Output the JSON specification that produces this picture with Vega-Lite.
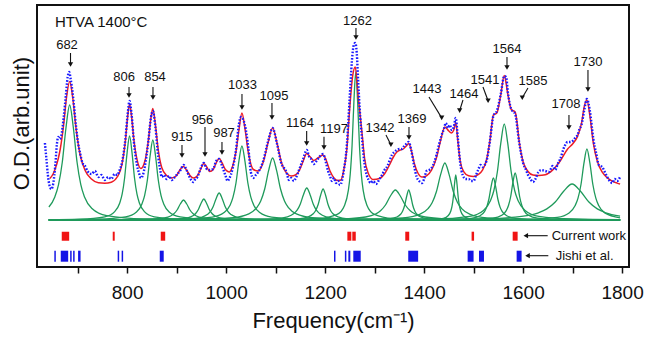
{
"$schema":"https://vega.github.io/schema/vega-lite/v6.json",
"width":592,"height":262,
"autosize":{"type":"none"},
"padding":{"left":37,"top":5,"right":17,"bottom":72},
"config":{"font":"Liberation Sans","view":{"stroke":"#111","strokeWidth":2}},
"datasets":{
"comp":[
{"c":1,"f":642,"v":60},{"c":1,"f":654,"v":70},{"c":1,"f":661.5,"v":82.4},{"c":1,"f":669,"v":104.5},{"c":1,"f":676.5,"v":139},{"c":1,"f":684,"v":162},{"c":1,"f":691.5,"v":139},{"c":1,"f":699,"v":104.5},{"c":1,"f":706.5,"v":82.4},{"c":1,"f":714,"v":70},{"c":1,"f":729,"v":58.5},{"c":1,"f":759,"v":51.4},{"c":1,"f":834,"v":48.1},{"c":1,"f":1000,"v":47.3},{"c":1,"f":1796,"v":47},
{"c":2,"f":642,"v":47.3},{"c":2,"f":705,"v":47.8},{"c":2,"f":755,"v":50.2},{"c":2,"f":775,"v":55.4},{"c":2,"f":785,"v":63.8},{"c":2,"f":790,"v":72.8},{"c":2,"f":795,"v":89},{"c":2,"f":800,"v":114.2},{"c":2,"f":805,"v":131},{"c":2,"f":810,"v":114.2},{"c":2,"f":815,"v":89},{"c":2,"f":820,"v":72.8},{"c":2,"f":825,"v":63.8},{"c":2,"f":835,"v":55.4},{"c":2,"f":855,"v":50.2},{"c":2,"f":905,"v":47.8},{"c":2,"f":1796,"v":47},
{"c":3,"f":642,"v":47.2},{"c":3,"f":742,"v":47.8},{"c":3,"f":797,"v":50.1},{"c":3,"f":819,"v":55},{"c":3,"f":830,"v":63},{"c":3,"f":835.5,"v":71.6},{"c":3,"f":841,"v":87},{"c":3,"f":846.5,"v":111},{"c":3,"f":852,"v":127},{"c":3,"f":857.5,"v":111},{"c":3,"f":863,"v":87},{"c":3,"f":868.5,"v":71.6},{"c":3,"f":874,"v":63},{"c":3,"f":885,"v":55},{"c":3,"f":907,"v":50.1},{"c":3,"f":962,"v":47.8},{"c":3,"f":1796,"v":47},
{"c":4,"f":642,"v":47},{"c":4,"f":784,"v":47.2},{"c":4,"f":849,"v":47.8},{"c":4,"f":875,"v":49},{"c":4,"f":888,"v":51},{"c":4,"f":894.5,"v":53.2},{"c":4,"f":901,"v":57},{"c":4,"f":907.5,"v":63},{"c":4,"f":914,"v":67},{"c":4,"f":920.5,"v":63},{"c":4,"f":927,"v":57},{"c":4,"f":933.5,"v":53.2},{"c":4,"f":940,"v":51},{"c":4,"f":953,"v":49},{"c":4,"f":979,"v":47.8},{"c":4,"f":1044,"v":47.2},{"c":4,"f":1796,"v":47},
{"c":5,"f":642,"v":47},{"c":5,"f":845,"v":47.2},{"c":5,"f":900,"v":47.8},{"c":5,"f":922,"v":49.1},{"c":5,"f":933,"v":51.2},{"c":5,"f":938.5,"v":53.5},{"c":5,"f":944,"v":57.5},{"c":5,"f":949.5,"v":63.8},{"c":5,"f":955,"v":68},{"c":5,"f":960.5,"v":63.8},{"c":5,"f":966,"v":57.5},{"c":5,"f":971.5,"v":53.5},{"c":5,"f":977,"v":51.2},{"c":5,"f":988,"v":49.1},{"c":5,"f":1010,"v":47.8},{"c":5,"f":1065,"v":47.2},{"c":5,"f":1796,"v":47},
{"c":6,"f":642,"v":47},{"c":6,"f":866,"v":47.3},{"c":6,"f":926,"v":48},{"c":6,"f":950,"v":49.7},{"c":6,"f":962,"v":52.4},{"c":6,"f":968,"v":55.3},{"c":6,"f":974,"v":60.5},{"c":6,"f":980,"v":68.6},{"c":6,"f":986,"v":74},{"c":6,"f":992,"v":68.6},{"c":6,"f":998,"v":60.5},{"c":6,"f":1004,"v":55.3},{"c":6,"f":1010,"v":52.4},{"c":6,"f":1022,"v":49.7},{"c":6,"f":1046,"v":48},{"c":6,"f":1106,"v":47.3},{"c":6,"f":1796,"v":47},
{"c":7,"f":642,"v":47.1},{"c":7,"f":912,"v":47.7},{"c":7,"f":972,"v":49.8},{"c":7,"f":996,"v":54.4},{"c":7,"f":1008,"v":61.8},{"c":7,"f":1014,"v":69.8},{"c":7,"f":1020,"v":84},{"c":7,"f":1026,"v":106.2},{"c":7,"f":1032,"v":121},{"c":7,"f":1038,"v":106.2},{"c":7,"f":1044,"v":84},{"c":7,"f":1050,"v":69.8},{"c":7,"f":1056,"v":61.8},{"c":7,"f":1068,"v":54.4},{"c":7,"f":1092,"v":49.8},{"c":7,"f":1152,"v":47.7},{"c":7,"f":1796,"v":47},
{"c":8,"f":642,"v":47.1},{"c":8,"f":934,"v":47.6},{"c":8,"f":1014,"v":49.4},{"c":8,"f":1046,"v":53.2},{"c":8,"f":1062,"v":59.4},{"c":8,"f":1070,"v":66.1},{"c":8,"f":1078,"v":78},{"c":8,"f":1086,"v":96.6},{"c":8,"f":1094,"v":109},{"c":8,"f":1102,"v":96.6},{"c":8,"f":1110,"v":78},{"c":8,"f":1118,"v":66.1},{"c":8,"f":1126,"v":59.4},{"c":8,"f":1142,"v":53.2},{"c":8,"f":1174,"v":49.4},{"c":8,"f":1254,"v":47.6},{"c":8,"f":1796,"v":47},
{"c":9,"f":642,"v":47},{"c":9,"f":1033,"v":47.3},{"c":9,"f":1098,"v":48.2},{"c":9,"f":1124,"v":50.2},{"c":9,"f":1137,"v":53.4},{"c":9,"f":1143.5,"v":56.8},{"c":9,"f":1150,"v":63},{"c":9,"f":1156.5,"v":72.6},{"c":9,"f":1163,"v":79},{"c":9,"f":1169.5,"v":72.6},{"c":9,"f":1176,"v":63},{"c":9,"f":1182.5,"v":56.8},{"c":9,"f":1189,"v":53.4},{"c":9,"f":1202,"v":50.2},{"c":9,"f":1228,"v":48.2},{"c":9,"f":1293,"v":47.3},{"c":9,"f":1796,"v":47},
{"c":10,"f":642,"v":47},{"c":10,"f":1096,"v":47.3},{"c":10,"f":1146,"v":48.2},{"c":10,"f":1166,"v":50.1},{"c":10,"f":1176,"v":53.2},{"c":10,"f":1181,"v":56.5},{"c":10,"f":1186,"v":62.5},{"c":10,"f":1191,"v":71.8},{"c":10,"f":1196,"v":78},{"c":10,"f":1201,"v":71.8},{"c":10,"f":1206,"v":62.5},{"c":10,"f":1211,"v":56.5},{"c":10,"f":1216,"v":53.2},{"c":10,"f":1226,"v":50.1},{"c":10,"f":1246,"v":48.2},{"c":10,"f":1296,"v":47.3},{"c":10,"f":1796,"v":47},
{"c":11,"f":642,"v":47},{"c":11,"f":1112,"v":47.4},{"c":11,"f":1187,"v":48.5},{"c":11,"f":1224.5,"v":52.7},{"c":11,"f":1239.5,"v":61.8},{"c":11,"f":1247,"v":76.6},{"c":11,"f":1250.75,"v":92.5},{"c":11,"f":1254.5,"v":121},{"c":11,"f":1258.25,"v":165.4},{"c":11,"f":1262,"v":195},{"c":11,"f":1265.75,"v":165.4},{"c":11,"f":1269.5,"v":121},{"c":11,"f":1273.25,"v":92.5},{"c":11,"f":1277,"v":76.6},{"c":11,"f":1284.5,"v":61.8},{"c":11,"f":1299.5,"v":52.7},{"c":11,"f":1337,"v":48.5},{"c":11,"f":1412,"v":47.4},{"c":11,"f":1796,"v":47},
{"c":12,"f":642,"v":47},{"c":12,"f":1142,"v":47.3},{"c":12,"f":1242,"v":48.2},{"c":12,"f":1282,"v":50},{"c":12,"f":1302,"v":53},{"c":12,"f":1312,"v":56.2},{"c":12,"f":1322,"v":62},{"c":12,"f":1332,"v":71},{"c":12,"f":1342,"v":77},{"c":12,"f":1352,"v":71},{"c":12,"f":1362,"v":62},{"c":12,"f":1372,"v":56.2},{"c":12,"f":1382,"v":53},{"c":12,"f":1402,"v":50},{"c":12,"f":1442,"v":48.2},{"c":12,"f":1542,"v":47.3},{"c":12,"f":1796,"v":47.1},
{"c":13,"f":642,"v":47},{"c":13,"f":1289,"v":47.3},{"c":13,"f":1329,"v":48.2},{"c":13,"f":1345,"v":50},{"c":13,"f":1353,"v":53},{"c":13,"f":1357,"v":56.2},{"c":13,"f":1361,"v":62},{"c":13,"f":1365,"v":71},{"c":13,"f":1369,"v":77},{"c":13,"f":1373,"v":71},{"c":13,"f":1377,"v":62},{"c":13,"f":1381,"v":56.2},{"c":13,"f":1385,"v":53},{"c":13,"f":1393,"v":50},{"c":13,"f":1409,"v":48.2},{"c":13,"f":1449,"v":47.3},{"c":13,"f":1796,"v":47},
{"c":14,"f":642,"v":47},{"c":14,"f":1272,"v":47.6},{"c":14,"f":1357,"v":49.2},{"c":14,"f":1391,"v":52.7},{"c":14,"f":1408,"v":58.4},{"c":14,"f":1416.5,"v":64.5},{"c":14,"f":1425,"v":75.5},{"c":14,"f":1433.5,"v":92.6},{"c":14,"f":1442,"v":104},{"c":14,"f":1450.5,"v":92.6},{"c":14,"f":1459,"v":75.5},{"c":14,"f":1467.5,"v":64.5},{"c":14,"f":1476,"v":58.4},{"c":14,"f":1493,"v":52.7},{"c":14,"f":1527,"v":49.2},{"c":14,"f":1612,"v":47.6},{"c":14,"f":1796,"v":47.1},
{"c":15,"f":642,"v":47},{"c":15,"f":1364,"v":47.1},{"c":15,"f":1414,"v":47.4},{"c":15,"f":1439,"v":48.7},{"c":15,"f":1449,"v":51.5},{"c":15,"f":1454,"v":56},{"c":15,"f":1456.5,"v":60.8},{"c":15,"f":1459,"v":69.5},{"c":15,"f":1461.5,"v":83},{"c":15,"f":1464,"v":92},{"c":15,"f":1466.5,"v":83},{"c":15,"f":1469,"v":69.5},{"c":15,"f":1471.5,"v":60.8},{"c":15,"f":1474,"v":56},{"c":15,"f":1479,"v":51.5},{"c":15,"f":1489,"v":48.7},{"c":15,"f":1514,"v":47.4},{"c":15,"f":1564,"v":47.1},{"c":15,"f":1796,"v":47},
{"c":16,"f":642,"v":47},{"c":16,"f":1450,"v":47.4},{"c":16,"f":1495,"v":48.6},{"c":16,"f":1513,"v":51.2},{"c":16,"f":1522,"v":55.4},{"c":16,"f":1526.5,"v":59.9},{"c":16,"f":1531,"v":68},{"c":16,"f":1535.5,"v":80.6},{"c":16,"f":1540,"v":89},{"c":16,"f":1544.5,"v":80.6},{"c":16,"f":1549,"v":68},{"c":16,"f":1553.5,"v":59.9},{"c":16,"f":1558,"v":55.4},{"c":16,"f":1567,"v":51.2},{"c":16,"f":1585,"v":48.6},{"c":16,"f":1630,"v":47.4},{"c":16,"f":1796,"v":47.1},
{"c":17,"f":642,"v":47},{"c":17,"f":1422,"v":48},{"c":17,"f":1492,"v":50.7},{"c":17,"f":1520,"v":56.6},{"c":17,"f":1534,"v":66.2},{"c":17,"f":1541,"v":76.5},{"c":17,"f":1548,"v":95},{"c":17,"f":1555,"v":123.8},{"c":17,"f":1562,"v":143},{"c":17,"f":1569,"v":123.8},{"c":17,"f":1576,"v":95},{"c":17,"f":1583,"v":76.5},{"c":17,"f":1590,"v":66.2},{"c":17,"f":1604,"v":56.6},{"c":17,"f":1632,"v":50.7},{"c":17,"f":1702,"v":48},{"c":17,"f":1796,"v":47.3},
{"c":18,"f":642,"v":47},{"c":18,"f":1494,"v":47.5},{"c":18,"f":1539,"v":48.8},{"c":18,"f":1557,"v":51.7},{"c":18,"f":1566,"v":56.4},{"c":18,"f":1570.5,"v":61.5},{"c":18,"f":1575,"v":70.5},{"c":18,"f":1579.5,"v":84.6},{"c":18,"f":1584,"v":94},{"c":18,"f":1588.5,"v":84.6},{"c":18,"f":1593,"v":70.5},{"c":18,"f":1597.5,"v":61.5},{"c":18,"f":1602,"v":56.4},{"c":18,"f":1611,"v":51.7},{"c":18,"f":1629,"v":48.8},{"c":18,"f":1674,"v":47.5},{"c":18,"f":1796,"v":47.1},
{"c":19,"f":642,"v":47},{"c":19,"f":1359,"v":47.4},{"c":19,"f":1529,"v":48.4},{"c":19,"f":1597,"v":50.6},{"c":19,"f":1631,"v":54.2},{"c":19,"f":1648,"v":58.1},{"c":19,"f":1665,"v":65},{"c":19,"f":1682,"v":75.8},{"c":19,"f":1699,"v":83},{"c":19,"f":1716,"v":75.8},{"c":19,"f":1733,"v":65},{"c":19,"f":1750,"v":58.1},{"c":19,"f":1767,"v":54.2},{"c":19,"f":1796,"v":50.9},
{"c":20,"f":642,"v":47},{"c":20,"f":1609,"v":47.7},{"c":20,"f":1669,"v":49.7},{"c":20,"f":1693,"v":54.1},{"c":20,"f":1705,"v":61.2},{"c":20,"f":1711,"v":68.8},{"c":20,"f":1717,"v":82.5},{"c":20,"f":1723,"v":103.8},{"c":20,"f":1729,"v":118},{"c":20,"f":1735,"v":103.8},{"c":20,"f":1741,"v":82.5},{"c":20,"f":1747,"v":68.8},{"c":20,"f":1753,"v":61.2},{"c":20,"f":1765,"v":54.1},{"c":20,"f":1796,"v":49.2}
],
"fit":[
{"f":644,"v":88.5},{"f":651,"v":93.5},{"f":655,"v":98.5},{"f":661,"v":108.5},{"f":665,"v":118},{"f":672,"v":143},{"f":678,"v":171},{"f":684,"v":185.5},{"f":690,"v":170},{"f":697,"v":138},{"f":705,"v":112.5},{"f":715,"v":96.8},{"f":728,"v":88},{"f":742,"v":84.2},{"f":755,"v":83.8},{"f":768,"v":84.8},{"f":780,"v":90},{"f":790,"v":103.3},{"f":797,"v":128},{"f":801,"v":149.7},{"f":805,"v":163},{"f":809,"v":150.7},{"f":814,"v":126},{"f":820,"v":107.6},{"f":828,"v":98.6},{"f":836,"v":106},{"f":843,"v":126.5},{"f":848,"v":148.3},{"f":852,"v":158.5},{"f":857,"v":143.2},{"f":863,"v":116.9},{"f":870,"v":99.5},{"f":880,"v":91.5},{"f":890,"v":88.9},{"f":900,"v":91.5},{"f":908,"v":98},{"f":914,"v":100.4},{"f":920,"v":97},{"f":927,"v":91.6},{"f":934,"v":88.9},{"f":942,"v":91.2},{"f":949,"v":98.2},{"f":955,"v":103.5},{"f":961,"v":100},{"f":967,"v":95.4},{"f":974,"v":97.4},{"f":980,"v":104.2},{"f":986,"v":108.5},{"f":992,"v":104},{"f":999,"v":97.2},{"f":1006,"v":95.1},{"f":1013,"v":100.6},{"f":1020,"v":115.3},{"f":1026,"v":137},{"f":1032,"v":154},{"f":1038,"v":138.8},{"f":1045,"v":114.4},{"f":1055,"v":97.5},{"f":1065,"v":96},{"f":1075,"v":104.8},{"f":1085,"v":124.7},{"f":1094,"v":139},{"f":1103,"v":123.7},{"f":1112,"v":104.2},{"f":1122,"v":94},{"f":1132,"v":91},{"f":1140,"v":92},{"f":1148,"v":96.5},{"f":1155,"v":105},{"f":1163,"v":113.5},{"f":1170,"v":110},{"f":1177,"v":106.5},{"f":1184,"v":108.5},{"f":1190,"v":110.5},{"f":1196,"v":112},{"f":1202,"v":107},{"f":1210,"v":96},{"f":1218,"v":89},{"f":1226,"v":86.5},{"f":1232,"v":87},{"f":1237,"v":95},{"f":1244,"v":118},{"f":1250,"v":160},{"f":1256,"v":192},{"f":1261,"v":200},{"f":1267,"v":170},{"f":1274,"v":137},{"f":1280,"v":108},{"f":1287,"v":94},{"f":1297,"v":87.5},{"f":1310,"v":88.5},{"f":1320,"v":93},{"f":1330,"v":102},{"f":1338,"v":110},{"f":1345,"v":115},{"f":1352,"v":117},{"f":1358,"v":118},{"f":1364,"v":121},{"f":1369,"v":123.5},{"f":1374,"v":117},{"f":1380,"v":104},{"f":1388,"v":93.5},{"f":1396,"v":90},{"f":1405,"v":91.2},{"f":1415,"v":96.8},{"f":1425,"v":109.2},{"f":1433,"v":125.6},{"f":1442,"v":140},{"f":1450,"v":136},{"f":1455,"v":134},{"f":1460,"v":137},{"f":1464,"v":144.5},{"f":1468,"v":127},{"f":1473,"v":106},{"f":1480,"v":95.4},{"f":1490,"v":91.2},{"f":1500,"v":90.6},{"f":1510,"v":92.6},{"f":1518,"v":96.9},{"f":1526,"v":106.7},{"f":1533,"v":126.1},{"f":1540,"v":152},{"f":1547,"v":154},{"f":1555,"v":172.3},{"f":1562,"v":191.5},{"f":1569,"v":173.5},{"f":1576,"v":157.5},{"f":1584,"v":155},{"f":1587,"v":147.7},{"f":1592,"v":126},{"f":1600,"v":105.3},{"f":1610,"v":95.5},{"f":1620,"v":92},{"f":1631,"v":91.5},{"f":1645,"v":92.3},{"f":1660,"v":97.1},{"f":1675,"v":106},{"f":1690,"v":118},{"f":1700,"v":123},{"f":1710,"v":130.6},{"f":1718,"v":143.6},{"f":1724,"v":161.4},{"f":1729,"v":167},{"f":1735,"v":151.1},{"f":1742,"v":123.7},{"f":1750,"v":105.7},{"f":1760,"v":94.8},{"f":1770,"v":89.2},{"f":1780,"v":85.9},{"f":1790,"v":83.9},{"f":1796,"v":83}
],
"obs":[
{"f":634,"v":124},{"f":637,"v":108},{"f":640,"v":92},{"f":643,"v":82},{"f":647,"v":78},{"f":651,"v":84},{"f":655,"v":102},{"f":658,"v":122},{"f":661,"v":130},{"f":664,"v":128},{"f":667,"v":131},{"f":672,"v":150},{"f":676,"v":170},{"f":680,"v":190},{"f":683,"v":195},{"f":686,"v":188},{"f":690,"v":174},{"f":697,"v":140},{"f":701,"v":124},{"f":705,"v":114},{"f":710,"v":104},{"f":715,"v":101},{"f":720,"v":96},{"f":728,"v":93},{"f":735,"v":96},{"f":742,"v":90},{"f":748,"v":92},{"f":755,"v":87},{"f":762,"v":90},{"f":768,"v":88},{"f":775,"v":93},{"f":780,"v":92},{"f":785,"v":97},{"f":790,"v":105},{"f":797,"v":130},{"f":801,"v":152},{"f":805,"v":166},{"f":809,"v":153},{"f":814,"v":124},{"f":820,"v":102},{"f":824,"v":94},{"f":828,"v":89},{"f":832,"v":92},{"f":836,"v":101},{"f":843,"v":126},{"f":848,"v":149},{"f":852,"v":156},{"f":857,"v":141},{"f":863,"v":110},{"f":867,"v":97},{"f":870,"v":90},{"f":875,"v":92},{"f":880,"v":88},{"f":885,"v":91},{"f":890,"v":87},{"f":895,"v":89},{"f":900,"v":92},{"f":908,"v":97},{"f":914,"v":102},{"f":920,"v":97},{"f":927,"v":89},{"f":934,"v":85},{"f":938,"v":88},{"f":942,"v":90},{"f":949,"v":99},{"f":955,"v":104},{"f":961,"v":98},{"f":967,"v":97},{"f":974,"v":98},{"f":980,"v":106},{"f":986,"v":108},{"f":992,"v":101},{"f":999,"v":91},{"f":1003,"v":86},{"f":1006,"v":88},{"f":1013,"v":98},{"f":1020,"v":117},{"f":1026,"v":143},{"f":1030,"v":150},{"f":1034,"v":148},{"f":1038,"v":142},{"f":1045,"v":119},{"f":1050,"v":95},{"f":1055,"v":89},{"f":1060,"v":92},{"f":1065,"v":95},{"f":1075,"v":106},{"f":1085,"v":126},{"f":1094,"v":139},{"f":1103,"v":123},{"f":1112,"v":103},{"f":1117,"v":99},{"f":1122,"v":95},{"f":1127,"v":87},{"f":1132,"v":89},{"f":1137,"v":86},{"f":1140,"v":88},{"f":1148,"v":98},{"f":1155,"v":107},{"f":1163,"v":117},{"f":1168,"v":110},{"f":1172,"v":108},{"f":1177,"v":103},{"f":1184,"v":107},{"f":1190,"v":111},{"f":1196,"v":113},{"f":1202,"v":104},{"f":1206,"v":96},{"f":1210,"v":91},{"f":1214,"v":86},{"f":1218,"v":89},{"f":1222,"v":84},{"f":1226,"v":86},{"f":1230,"v":82},{"f":1234,"v":86},{"f":1237,"v":94},{"f":1244,"v":122},{"f":1250,"v":172},{"f":1254,"v":205},{"f":1258,"v":222},{"f":1261,"v":224},{"f":1264,"v":214},{"f":1267,"v":185},{"f":1271,"v":150},{"f":1274,"v":132},{"f":1280,"v":102},{"f":1284,"v":92},{"f":1287,"v":88},{"f":1292,"v":84},{"f":1297,"v":86},{"f":1303,"v":83},{"f":1310,"v":88},{"f":1315,"v":92},{"f":1320,"v":97},{"f":1326,"v":101},{"f":1330,"v":106},{"f":1335,"v":112},{"f":1340,"v":115},{"f":1345,"v":117},{"f":1350,"v":118},{"f":1355,"v":118},{"f":1360,"v":121},{"f":1364,"v":123},{"f":1369,"v":125},{"f":1374,"v":117},{"f":1380,"v":101},{"f":1385,"v":90},{"f":1390,"v":86},{"f":1396,"v":84},{"f":1400,"v":88},{"f":1405,"v":96},{"f":1410,"v":97},{"f":1415,"v":99},{"f":1420,"v":104},{"f":1425,"v":112},{"f":1430,"v":122},{"f":1435,"v":131},{"f":1440,"v":138},{"f":1444,"v":144},{"f":1448,"v":139},{"f":1452,"v":142},{"f":1456,"v":137},{"f":1460,"v":140},{"f":1464,"v":149},{"f":1468,"v":130},{"f":1473,"v":104},{"f":1478,"v":92},{"f":1484,"v":88},{"f":1490,"v":88},{"f":1495,"v":86},{"f":1500,"v":86},{"f":1505,"v":92},{"f":1510,"v":98},{"f":1514,"v":102},{"f":1518,"v":100},{"f":1526,"v":106},{"f":1533,"v":126},{"f":1540,"v":151},{"f":1547,"v":156},{"f":1555,"v":173},{"f":1562,"v":191},{"f":1566,"v":190},{"f":1569,"v":176},{"f":1576,"v":158},{"f":1584,"v":153},{"f":1592,"v":125},{"f":1600,"v":104},{"f":1606,"v":97},{"f":1610,"v":92},{"f":1615,"v":88},{"f":1620,"v":85},{"f":1625,"v":88},{"f":1631,"v":95},{"f":1637,"v":97},{"f":1645,"v":96},{"f":1652,"v":95},{"f":1660,"v":101},{"f":1665,"v":97},{"f":1670,"v":103},{"f":1675,"v":108},{"f":1684,"v":121},{"f":1690,"v":125},{"f":1695,"v":125},{"f":1700,"v":126},{"f":1705,"v":129},{"f":1710,"v":132},{"f":1714,"v":138},{"f":1718,"v":142},{"f":1724,"v":158},{"f":1729,"v":168},{"f":1735,"v":156},{"f":1742,"v":128},{"f":1748,"v":113},{"f":1753,"v":102},{"f":1760,"v":100},{"f":1766,"v":94},{"f":1770,"v":90},{"f":1775,"v":86},{"f":1780,"v":84},{"f":1785,"v":88},{"f":1790,"v":86},{"f":1796,"v":90}
],
"ticks":[
{"s":"cur","a":668,"b":683},{"s":"cur","a":771,"b":775},{"s":"cur","a":868,"b":877},{"s":"cur","a":1245,"b":1253},{"s":"cur","a":1255,"b":1262},{"s":"cur","a":1362,"b":1370},{"s":"cur","a":1496,"b":1501},{"s":"cur","a":1579,"b":1589},
{"s":"jishi","a":653,"b":656},{"s":"jishi","a":666,"b":681},{"s":"jishi","a":685,"b":688},{"s":"jishi","a":691,"b":694},{"s":"jishi","a":701,"b":706},{"s":"jishi","a":781,"b":784},{"s":"jishi","a":789,"b":792},{"s":"jishi","a":866,"b":874},{"s":"jishi","a":1218,"b":1221},{"s":"jishi","a":1240,"b":1243},{"s":"jishi","a":1247,"b":1251},{"s":"jishi","a":1257,"b":1272},{"s":"jishi","a":1368,"b":1388},{"s":"jishi","a":1488,"b":1500},{"s":"jishi","a":1511,"b":1521},{"s":"jishi","a":1587,"b":1597}
],
"peaks":[
{"lab":"682","tx":678.6,"ty":218,"x":685.7,"y":214,"x2":685.7,"y2":202.5},
{"lab":"806","tx":793.8,"ty":186,"x":803.9,"y":180,"x2":803.9,"y2":171.5},
{"lab":"854","tx":856.4,"ty":186,"x":852.3,"y":180,"x2":852.3,"y2":169.5},
{"lab":"915","tx":910.9,"ty":126,"x":910.9,"y":122,"x2":910.9,"y2":111.5},
{"lab":"956","tx":952.3,"ty":143,"x":957.4,"y":140,"x2":957.4,"y2":112.5},
{"lab":"987","tx":995.8,"ty":130,"x":991.7,"y":125,"x2":991.7,"y2":114.5},
{"lab":"1033","tx":1033.2,"ty":178,"x":1032.1,"y":173,"x2":1032.1,"y2":159.5},
{"lab":"1095","tx":1096.8,"ty":167,"x":1092.7,"y":164,"x2":1092.7,"y2":149.5},
{"lab":"1164","tx":1149.3,"ty":140,"x":1162.8,"y":136,"x2":1162.8,"y2":123.5},
{"lab":"1197","tx":1218,"ty":133.7,"x":1197.8,"y":130.3,"x2":1197.8,"y2":119.5},
{"lab":"1262","tx":1265.5,"ty":242,"x":1262.4,"y":239,"x2":1262.4,"y2":229.5},
{"lab":"1342","tx":1311,"ty":135,"x":1323,"y":132,"x2":1333,"y2":122.2},
{"lab":"1369","tx":1375.6,"ty":144,"x":1369.5,"y":140,"x2":1369.5,"y2":129.5},
{"lab":"1443","tx":1405.9,"ty":174,"x":1409.9,"y":170,"x2":1435.6,"y2":149.1},
{"lab":"1464","tx":1480.6,"ty":169,"x":1478.6,"y":167,"x2":1471.9,"y2":156.4},
{"lab":"1541","tx":1523,"ty":183,"x":1519,"y":180,"x2":1529.3,"y2":166.3},
{"lab":"1564","tx":1567.5,"ty":214,"x":1567.5,"y":210,"x2":1567.5,"y2":199.5},
{"lab":"1585","tx":1620,"ty":182,"x":1609.9,"y":179,"x2":1598.4,"y2":169.2},
{"lab":"1708","tx":1686.7,"ty":159,"x":1692.7,"y":152,"x2":1692.7,"y2":139.5},
{"lab":"1730","tx":1731.1,"ty":201,"x":1731.1,"y":197,"x2":1731.1,"y2":177.5}
],
"leg":[
{"t":"Current work","x":1649.7,"x2":1605.5,"y":31.3,"tx":1657.8},
{"t":"Jishi et al.","x":1651,"x2":1609,"y":11.3,"tx":1665.9}
]
},
"layer":[
{"data":{"name":"comp"},
 "mark":{"type":"line","interpolate":"monotone","color":"#1f9a5b","strokeWidth":1.3},
 "encoding":{
  "x":{"field":"f","type":"quantitative","scale":{"domain":[618,1814],"nice":false,"zero":false},
   "axis":{"title":"Frequency(cm⁻¹)","values":[700,800,900,1000,1100,1200,1300,1400,1500,1600,1700,1800],"format":"d","labelExpr":"datum.value % 200 === 0 ? datum.label : ''","grid":false,"domain":false,"tickSize":6,"tickWidth":1.5,"tickColor":"#111","labelFontSize":19,"labelColor":"#111","labelPadding":10,"labelFlush":false,"titleFontSize":22,"titleFontWeight":"normal","titleColor":"#111","titleBaseline":"alphabetic","titleY":60}},
  "y":{"field":"v","type":"quantitative","scale":{"domain":[0,262],"nice":false,"zero":false},
   "axis":{"title":"O.D.(arb.unit)","labels":false,"ticks":false,"domain":false,"grid":false,"titleFontSize":22,"titleFontWeight":"normal","titleColor":"#111","titleAngle":270,"titleX":-9,"titleY":118,"titleAlign":"center","titleBaseline":"alphabetic"}},
  "detail":{"field":"c","type":"nominal"}}},
{"data":{"name":"fit"},
 "mark":{"type":"line","interpolate":"monotone","color":"#ee1c25","strokeWidth":1.5},
 "encoding":{"x":{"field":"f","type":"quantitative"},"y":{"field":"v","type":"quantitative"}}},
{"data":{"name":"obs"},
 "mark":{"type":"line","interpolate":"monotone","color":"#1a1aff","strokeWidth":2.4,"strokeDash":[1.6,1.6]},
 "encoding":{"x":{"field":"f","type":"quantitative"},"y":{"field":"v","type":"quantitative"}}},
{"data":{"name":"ticks"},"transform":[{"filter":"datum.s === 'cur'"}],
 "mark":{"type":"rect","color":"#f01414"},
 "encoding":{"x":{"field":"a","type":"quantitative"},"x2":{"field":"b"},"y":{"datum":26.3,"type":"quantitative"},"y2":{"datum":35.3}}},
{"data":{"name":"ticks"},"transform":[{"filter":"datum.s === 'jishi'"}],
 "mark":{"type":"rect","color":"#1414e6"},
 "encoding":{"x":{"field":"a","type":"quantitative"},"x2":{"field":"b"},"y":{"datum":5.3,"type":"quantitative"},"y2":{"datum":16.3}}},
{"data":{"name":"peaks"},
 "mark":{"type":"rule","color":"#111","strokeWidth":1.1},
 "encoding":{"x":{"field":"x","type":"quantitative"},"y":{"field":"y","type":"quantitative"},"x2":{"field":"x2"},"y2":{"field":"y2"}}},
{"data":{"name":"peaks"},
 "mark":{"type":"point","shape":"triangle-down","filled":true,"color":"#111","size":28,"opacity":1},
 "encoding":{"x":{"field":"x2","type":"quantitative"},"y":{"field":"y2","type":"quantitative"},
  "angle":{"field":"lab","type":"nominal","legend":null,"scale":{"domain":["682","806","854","915","956","987","1033","1095","1164","1197","1262","1342","1369","1443","1464","1541","1564","1585","1708","1730"],"range":[0,0,0,0,0,0,0,0,0,0,0,333,0,329,17,339,0,30,0,0]}}}},
{"data":{"name":"peaks"},
 "mark":{"type":"text","align":"center","baseline":"alphabetic","fontSize":13,"color":"#111"},
 "encoding":{"x":{"field":"tx","type":"quantitative"},"y":{"field":"ty","type":"quantitative"},"text":{"field":"lab"}}},
{"data":{"values":[{"t":"HTVA 1400°C","x":654.4,"y":240}]},
 "mark":{"type":"text","align":"left","baseline":"alphabetic","fontSize":15,"color":"#111"},
 "encoding":{"x":{"field":"x","type":"quantitative"},"y":{"field":"y","type":"quantitative"},"text":{"field":"t"}}},
{"data":{"name":"leg"},
 "mark":{"type":"rule","color":"#111","strokeWidth":1.1},
 "encoding":{"x":{"field":"x","type":"quantitative"},"x2":{"field":"x2"},"y":{"field":"y","type":"quantitative"}}},
{"data":{"name":"leg"},
 "mark":{"type":"point","shape":"triangle-left","filled":true,"color":"#111","size":28,"opacity":1},
 "encoding":{"x":{"field":"x2","type":"quantitative"},"y":{"field":"y","type":"quantitative"}}},
{"data":{"name":"leg"},
 "mark":{"type":"text","align":"left","baseline":"middle","fontSize":13,"color":"#111"},
 "encoding":{"x":{"field":"tx","type":"quantitative"},"y":{"field":"y","type":"quantitative"},"text":{"field":"t"}}}
]
}
